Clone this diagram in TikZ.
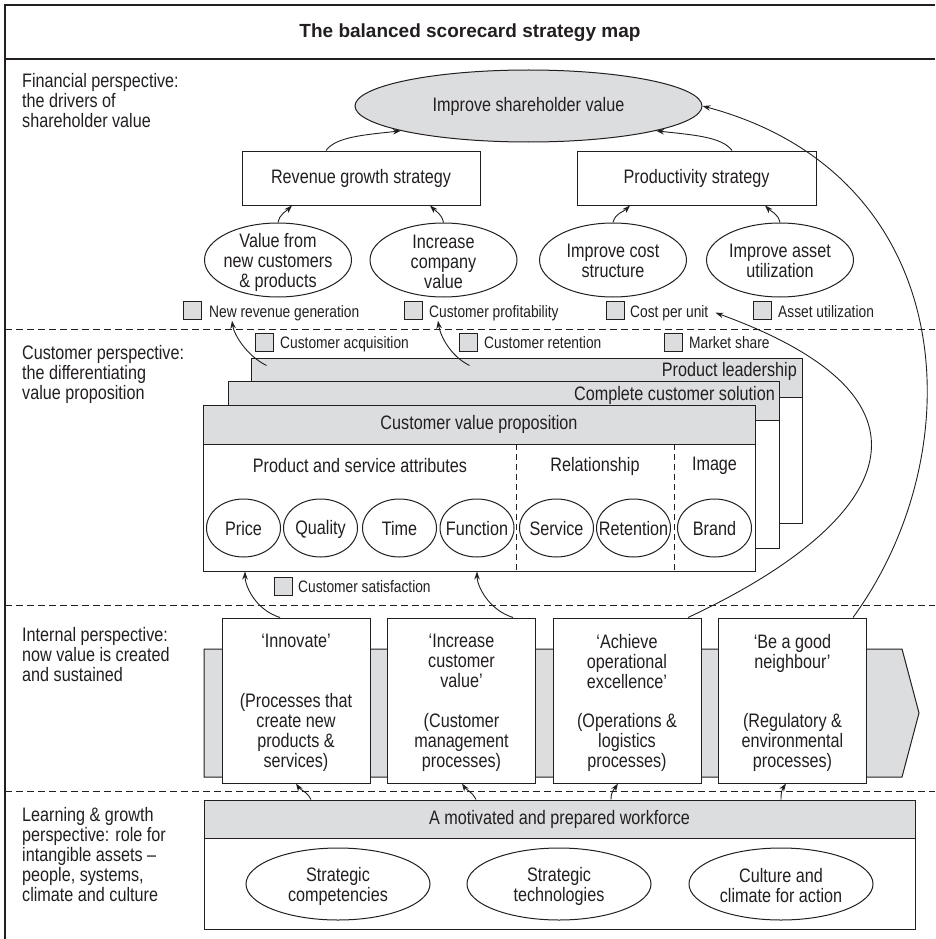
\documentclass[tikz,border=0pt]{standalone}
\usepackage{fontspec}
\setmainfont{Liberation Sans}[FakeStretch=0.83]
\newfontfamily\titlefont{Liberation Sans}
\usetikzlibrary{arrows.meta,shapes.geometric,calc}
\definecolor{ink}{RGB}{35,31,32}
\definecolor{shade}{RGB}{220,221,223}
\tikzset{
  txt/.style={inner sep=0pt, text=ink, align=center, font=\fontsize{19.5}{20}\selectfont},
  note/.style={inner sep=0pt, text=ink, font=\fontsize{16.6}{18}\selectfont},
  box/.style={txt, rectangle, draw=ink, line width=1pt, fill=white},
  head/.style={box, fill=shade, minimum height=39pt},
  oval/.style={txt, ellipse, draw=ink, line width=1pt, fill=white},
  chk/.style={rectangle, draw=ink, line width=0.9pt, fill=shade, minimum width=18pt, minimum height=17.5pt, inner sep=0pt},
  conn/.style={draw=ink, line width=0.9pt, -{Stealth[length=8pt,width=5.5pt]}},
  divider/.style={draw=ink, line width=0.9pt, dash pattern=on 7pt off 4pt},
}
\begin{document}
\begin{tikzpicture}[x=1pt,y=1pt,yscale=-1,xscale=1]
\useasboundingbox (0,0) rectangle (935,939);

%Frame and title bar
\draw [draw=ink, line width=1.6pt] (5,939) -- (5,5) -- (935,5) ;
\draw [draw=ink, line width=1.2pt] (5,59) -- (935,59) ;
% Text Node
\node [txt, font=\titlefont\bfseries\fontsize{19}{22}\selectfont, anchor=base] (title) at (470,37.5) {The balanced scorecard strategy map};

%Dashed lines between the perspectives
\draw [divider] (5,329) -- (935,329) ;
\draw [divider] (5,605) -- (935,605) ;
\draw [divider] (5,791) -- (935,791) ;

% Text Node
\node [txt, align=left, anchor=north west] (finlbl) at (22,73) {Financial perspective:\\the drivers of\\shareholder value};
% Text Node
\node [txt, align=left, anchor=north west] (custlbl) at (22,345) {Customer perspective:\\the differentiating\\value proposition};
% Text Node
\node [txt, align=left, anchor=north west] (intlbl) at (22,627) {Internal perspective:\\now value is created\\and sustained};
% Text Node
\node [txt, align=left, anchor=north west] (learnlbl) at (22,807) {Learning \& growth\\perspective: role for\\intangible assets –\\people, systems,\\climate and culture};

%Shape: Ellipse
\node [oval, fill=shade, minimum width=347pt, minimum height=72pt] (share) at (528.5,106) {Improve shareholder value};
%Shape: Rectangle
\node [box, minimum width=238pt, minimum height=54pt] (revenue) at (361,178) {Revenue growth strategy};
%Shape: Rectangle
\node [box, minimum width=239pt, minimum height=54pt] (productivity) at (696.5,178) {Productivity strategy};

%Shape: Ellipse
\node [oval, minimum width=147pt, minimum height=74pt] (newcust) at (278,260) {};
\node [txt] (newcust-t) at (278,262) {Value from\\new customers\\\& products};
%Shape: Ellipse
\node [oval, minimum width=147pt, minimum height=74pt] (compval) at (443.5,260) {};
\node [txt] (compval-t) at (443.5,262) {Increase\\company\\value};
%Shape: Ellipse
\node [oval, minimum width=147pt, minimum height=74pt] (coststr) at (613,260) {};
\node [txt] (coststr-t) at (613,261) {Improve cost\\structure};
%Shape: Ellipse
\node [oval, minimum width=147pt, minimum height=74pt] (assetut) at (780,260) {};
\node [txt] (assetut-t) at (780,261) {Improve asset\\utilization};

%Measures
\node [chk] (nrg-b) at (192.5,310.5) {};
\node [note, anchor=base west] (nrg) at (209,317) {New revenue generation};
\node [chk] (cprof-b) at (413.5,310.5) {};
\node [note, anchor=base west] (cprof) at (429,317) {Customer profitability};
\node [chk] (cpu-b) at (615,310.5) {};
\node [note, anchor=base west] (cpu) at (630,317) {Cost per unit};
\node [chk] (au-b) at (762,310.5) {};
\node [note, anchor=base west] (au) at (778,317) {Asset utilization};
\node [chk] (cacq-b) at (264.5,342.5) {};
\node [note, anchor=base west] (cacq) at (280,348.5) {Customer acquisition};
\node [chk] (cret-b) at (468.5,342.5) {};
\node [note, anchor=base west] (cret) at (484,348.5) {Customer retention};
\node [chk] (mshare-b) at (673.5,342.5) {};
\node [note, anchor=base west] (mshare) at (689,348.5) {Market share};
\node [chk] (csat-b) at (283,586.5) {};
\node [note, anchor=base west] (csat) at (298,592.5) {Customer satisfaction};

%Stacked value propositions
\node [box, minimum width=551pt, minimum height=165pt] (plead) at (526.5,440.5) {};
\node [head, minimum width=551pt] (plead-h) at (526.5,377.5) {};
\node [txt, anchor=base east] (plead-t) at (797,376) {Product leadership};
\node [box, minimum width=551pt, minimum height=167pt] (ccs) at (503.5,464.5) {};
\node [head, minimum width=551pt] (ccs-h) at (503.5,400.5) {};
\node [txt, anchor=base east] (ccs-t) at (775,400) {Complete customer solution};
\node [box, minimum width=552pt, minimum height=166pt] (cvp) at (479,488) {};
\node [head, minimum width=552pt] (cvp-h) at (479,424.5) {Customer value proposition};

\draw [draw=ink, line width=0.9pt, dash pattern=on 6pt off 4pt] (516,444) -- (516,571) ;
\draw [draw=ink, line width=0.9pt, dash pattern=on 6pt off 4pt] (674,444) -- (674,571) ;
% Text Node
\node [txt] (attr) at (360,466) {Product and service attributes};
\node [txt] (rel) at (595,466) {Relationship};
\node [txt] (img) at (714.5,466) {Image};

%Shape: Circle
\node [oval, minimum width=74pt, minimum height=58pt] (price) at (243.5,528) {};
\node [txt] (price-t) at (243.5,529) {Price};
\node [oval, minimum width=74pt, minimum height=58pt] (quality) at (320.5,528) {};
\node [txt] (quality-t) at (320.5,529) {Quality};
\node [oval, minimum width=74pt, minimum height=58pt] (time) at (399.5,528) {};
\node [txt] (time-t) at (399.5,529) {Time};
\node [oval, minimum width=74pt, minimum height=58pt] (function) at (477,528) {};
\node [txt] (function-t) at (477,529) {Function};
\node [oval, minimum width=74pt, minimum height=58pt] (service) at (556.5,528) {};
\node [txt] (service-t) at (556.5,529) {Service};
\node [oval, minimum width=74pt, minimum height=58pt] (retention) at (633.5,528) {};
\node [txt] (retention-t) at (633.5,529) {Retention};
\node [oval, minimum width=74pt, minimum height=58pt] (brand) at (714.5,528) {};
\node [txt] (brand-t) at (714.5,529) {Brand};

%Shape: Arrow band behind the processes
\draw [draw=ink, line width=1pt, fill=shade] (204,649) -- (902,649) -- (919,713) -- (902,777) -- (204,777) -- cycle ;

%Shape: Rectangle
\node [box, minimum width=148pt, minimum height=165pt] (innovate) at (296,700.5) {};
\node [txt, anchor=north] (innovate-a) at (296,634) {‘Innovate’};
\node [txt, anchor=south] (innovate-b) at (296,772) {(Processes that\\create new\\products \&\\services)};
\node [box, minimum width=148pt, minimum height=165pt] (increase) at (461.5,700.5) {};
\node [txt, anchor=north] (increase-a) at (461.5,634) {‘Increase\\customer\\value’};
\node [txt, anchor=south] (increase-b) at (461.5,772) {(Customer\\management\\processes)};
\node [box, minimum width=148pt, minimum height=165pt] (achieve) at (627,700.5) {};
\node [txt, anchor=north] (achieve-a) at (627,634) {‘Achieve\\operational\\excellence’};
\node [txt, anchor=south] (achieve-b) at (627,772) {(Operations \&\\logistics\\processes)};
\node [box, minimum width=148pt, minimum height=165pt] (neighbour) at (792.5,700.5) {};
\node [txt, anchor=north] (neighbour-a) at (792.5,634) {‘Be a good\\neighbour’};
\node [txt, anchor=south] (neighbour-b) at (792.5,772) {(Regulatory \&\\environmental\\processes)};

%Learning and growth
\node [box, minimum width=711pt, minimum height=129pt] (wf) at (559.5,864.5) {};
\node [head, minimum width=711pt, minimum height=38pt] (wf-h) at (559.5,819) {A motivated and prepared workforce};
\node [oval, minimum width=184pt, minimum height=72pt] (stratcomp) at (338,884) {};
\node [txt] (stratcomp-t) at (338,886) {Strategic\\competencies};
\node [oval, minimum width=184pt, minimum height=72pt] (strattech) at (559,884) {};
\node [txt] (strattech-t) at (559,886) {Strategic\\technologies};
\node [oval, minimum width=184pt, minimum height=72pt] (culture) at (781,884) {};
\node [txt] (culture-t) at (781,886) {Culture and\\climate for action};

%Curve Lines
\draw [conn] ([xshift=-35pt]revenue.north) .. controls +(10,-14) and +(-35,4) .. (share.191) ;
\draw [conn] ([xshift=35.5pt]productivity.north) .. controls +(-10,-14) and +(35,4) .. (share.349) ;
\draw [conn] (newcust.north) .. controls +(2,-9) and +(-6,6) .. ([xshift=-69pt]revenue.south) ;
\draw [conn] (compval.north) .. controls +(-2,-9) and +(6,6) .. ([xshift=69pt]revenue.south) ;
\draw [conn] (coststr.north) .. controls +(2,-9) and +(-6,6) .. ([xshift=-66.5pt]productivity.south) ;
\draw [conn] (assetut.north) .. controls +(-2,-9) and +(6,6) .. ([xshift=68.5pt]productivity.south) ;
\draw [conn] ([xshift=60.5pt]neighbour.north) .. controls (975,450) and (960,175) .. (share.east) ;
\draw [conn] ([xshift=61pt]achieve.north) .. controls (886,525) and (962,402) .. ($(cpu.east)+(7,0)$) ;
\draw [conn] ($(plead.north west)+(16,8)$) .. controls +(-20,-10) and +(2,14) .. ([xshift=23pt]nrg.south west) ;
\draw [conn] ($(plead.north west)+(219,8)$) .. controls +(-20,-10) and +(2,14) .. ([xshift=9pt]cprof.south west) ;
\draw [conn] ([xshift=-16pt]innovate.north) .. controls +(-25,-8) and +(0,14) .. ([xshift=-234pt]cvp.south) ;
\draw [conn] ([xshift=51.5pt]increase.north) .. controls +(-25,-8) and +(0,14) .. ([xshift=-2pt]cvp.south) ;
\draw [conn] ([xshift=-248.5pt]wf-h.north) .. controls +(-4,-8) and +(4,6) .. (innovate.south) ;
\draw [conn] ([xshift=-83.5pt]wf-h.north) .. controls +(-4,-8) and +(4,6) .. ([xshift=0.5pt]increase.south) ;
\draw [conn] ([xshift=51.5pt]wf-h.north) .. controls +(0,-8) and +(-4,6) .. ([xshift=-9pt]achieve.south) ;
\draw [conn] ([xshift=221.5pt]wf-h.north) .. controls +(0,-8) and +(-4,6) .. ([xshift=-6.5pt]neighbour.south) ;

\end{tikzpicture}
\end{document}
